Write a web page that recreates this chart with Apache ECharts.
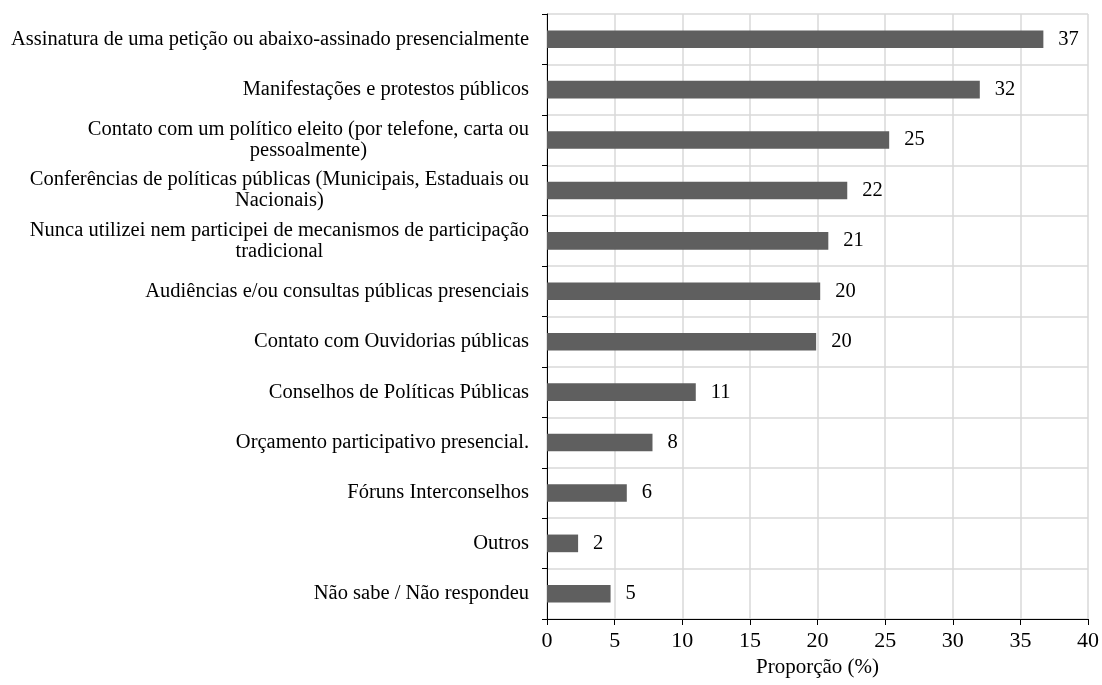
<!DOCTYPE html>
<html>
<head>
<meta charset="utf-8">
<style>html,body{margin:0;padding:0;background:#fff;}#chart{width:1102px;height:685px;}</style>
<script src="https://cdn.jsdelivr.net/npm/echarts@6/dist/echarts.min.js"></script>
</head>
<body>
<div id="chart"></div>
<script>
const categories = [
  "Assinatura de uma petição ou abaixo-assinado presencialmente",
  "Manifestações e protestos públicos",
  "Contato com um político eleito (por telefone, carta ou\npessoalmente)",
  "Conferências de políticas públicas (Municipais, Estaduais ou\nNacionais)",
  "Nunca utilizei nem participei de mecanismos de participação\ntradicional",
  "Audiências e/ou consultas públicas presenciais",
  "Contato com Ouvidorias públicas",
  "Conselhos de Políticas Públicas",
  "Orçamento participativo presencial.",
  "Fóruns Interconselhos",
  "Outros",
  "Não sabe / Não respondeu"
];
const values = [36.7, 32.0, 25.3, 22.2, 20.8, 20.2, 19.9, 11.0, 7.8, 5.9, 2.3, 4.7];
const valueLabels = ["37", "32", "25", "22", "21", "20", "20", "11", "8", "6", "2", "5"];
const xTicks = [0, 5, 10, 15, 20, 25, 30, 35, 40];
const axisName = "Proporção (%)";

const FONT = "'Liberation Serif', 'Times New Roman', serif";
const FS = 20.5;
const chart = echarts.init(document.getElementById('chart'), null, {renderer: 'canvas'});
chart.setOption({
  animation: false,
  backgroundColor: '#fff',
  grid: {left: 547, right: 13, top: 14, bottom: 66, containLabel: false},
  xAxis: {
    type: 'value',
    min: xTicks[0], max: xTicks[xTicks.length - 1], interval: xTicks[1] - xTicks[0],
    name: axisName, nameLocation: 'middle', nameGap: 36,
    nameTextStyle: {fontFamily: FONT, fontSize: 21, color: '#000'},
    axisLine: {show: true, lineStyle: {color: '#000', width: 1}},
    axisTick: {show: true, length: 6, lineStyle: {color: '#000'}},
    axisLabel: {fontFamily: FONT, fontSize: 22, color: '#000', margin: 11},
    splitLine: {show: true, lineStyle: {color: '#d9d9d9', width: 1.5}}
  },
  yAxis: {
    type: 'category', inverse: true, data: categories,
    axisLine: {show: true, lineStyle: {color: '#000', width: 1}},
    axisTick: {show: true, length: 5, alignWithLabel: false, lineStyle: {color: '#000'}},
    axisLabel: {
      fontFamily: FONT, fontSize: FS, color: '#000', margin: 18, lineHeight: 21,
      formatter: v => v.split('\n').map(l => '{c|' + l + '}').join('\n'),
      rich: {c: {align: 'center', fontFamily: FONT, fontSize: FS, color: '#000', lineHeight: 21}}
    },
    splitLine: {show: true, lineStyle: {color: '#d9d9d9', width: 1.5}}
  },
  series: [{
    type: 'bar', data: values, barCategoryGap: '65%',
    itemStyle: {color: '#5f5f5f'},
    label: {
      show: true, position: 'right', distance: 15,
      fontFamily: FONT, fontSize: FS, color: '#000',
      formatter: p => valueLabels[p.dataIndex]
    }
  }]
});
</script>
</body>
</html>
